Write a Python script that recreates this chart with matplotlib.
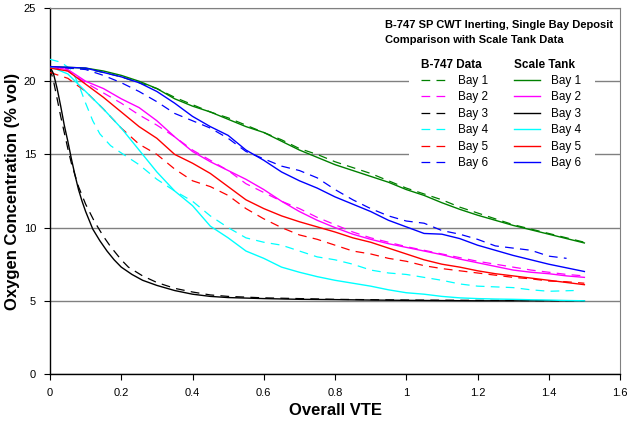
import matplotlib
matplotlib.use('Agg')
import matplotlib.pyplot as plt
from matplotlib.patches import Rectangle

plt.rcParams['font.family'] = ['Liberation Sans', 'DejaVu Sans']

bays = ['Bay 1', 'Bay 2', 'Bay 3', 'Bay 4', 'Bay 5', 'Bay 6']
colors = ['#008000', '#ff00ff', '#000000', '#00ffff', '#ff0000', '#0000ff']

# common VTE grid for most curves
vte = [0.0, 0.05, 0.1, 0.15, 0.2, 0.25, 0.3, 0.35, 0.4, 0.45, 0.5,
       0.55, 0.6, 0.65, 0.7, 0.75, 0.8, 0.85, 0.9, 0.95, 1.0,
       1.05, 1.1, 1.15, 1.2, 1.25, 1.3, 1.35, 1.4, 1.45, 1.5]

# scale tank (solid)
tank_bay1 = [21.0, 20.95, 20.9, 20.7, 20.4, 20.0, 19.5, 18.8, 18.3, 17.9, 17.4,
             16.9, 16.5, 15.9, 15.3, 14.8, 14.3, 13.9, 13.5, 13.1, 12.6,
             12.2, 11.7, 11.25, 10.85, 10.5, 10.15, 9.85, 9.55, 9.25, 8.95]
tank_bay2 = [21.0, 20.8, 20.0, 19.5, 18.8, 18.2, 17.3, 16.2, 15.2, 14.5, 13.9,
             13.3, 12.6, 11.8, 11.1, 10.5, 10.0, 9.55, 9.2, 8.9, 8.65,
             8.4, 8.15, 7.85, 7.6, 7.35, 7.1, 6.95, 6.85, 6.7, 6.6]
tank_bay3_x = [0.0, 0.01, 0.02, 0.03, 0.04, 0.05, 0.06, 0.07, 0.08, 0.09, 0.1,
               0.12, 0.14, 0.16, 0.18, 0.2, 0.23, 0.26, 0.3, 0.35, 0.4, 0.45,
               0.5, 0.6, 0.7, 0.8, 0.9, 1.0, 1.2, 1.5]
tank_bay3 = [21.0, 20.5, 19.5, 18.3, 17.0, 15.9, 14.7, 13.6, 12.6, 11.8, 11.1,
             9.9, 9.1, 8.4, 7.8, 7.3, 6.8, 6.4, 6.05, 5.7, 5.45, 5.3,
             5.22, 5.15, 5.1, 5.08, 5.05, 5.03, 5.0, 5.0]
tank_bay4 = [21.0, 20.5, 19.3, 18.1, 16.8, 15.3, 13.8, 12.5, 11.5, 10.1, 9.3,
             8.4, 7.9, 7.3, 6.95, 6.65, 6.4, 6.2, 6.0, 5.75, 5.55,
             5.45, 5.3, 5.2, 5.15, 5.12, 5.1, 5.07, 5.05, 5.02, 5.0]
tank_bay5 = [20.9, 20.7, 19.8, 18.9, 17.9, 16.9, 16.1, 15.0, 14.4, 13.7, 12.8,
             11.9, 11.3, 10.8, 10.4, 10.05, 9.7, 9.3, 9.0, 8.6, 8.2,
             7.8, 7.5, 7.3, 7.05, 6.85, 6.7, 6.55, 6.4, 6.25, 6.1]
tank_bay6 = [21.0, 20.95, 20.9, 20.6, 20.3, 19.9, 19.3, 18.5, 17.6, 16.9, 16.3,
             15.3, 14.6, 13.8, 13.2, 12.7, 12.1, 11.6, 11.1, 10.5, 10.05,
             9.6, 9.55, 9.25, 8.8, 8.45, 8.1, 7.8, 7.5, 7.25, 7.0]

# B-747 data (dashed)
b747_bay1 = [20.9, 20.9, 20.85, 20.6, 20.3, 19.9, 19.5, 18.9, 18.4, 17.9, 17.5,
             17.0, 16.5, 16.0, 15.4, 15.0, 14.5, 14.1, 13.7, 13.2, 12.7,
             12.3, 11.9, 11.4, 11.0, 10.6, 10.2, 9.9, 9.6, 9.3, 9.0]
b747_bay2 = [21.0, 20.7, 19.9, 19.2, 18.5, 17.7, 17.0, 16.2, 15.3, 14.6, 13.9,
             13.0, 12.4, 11.8, 11.3, 10.7, 10.2, 9.7, 9.3, 9.0, 8.7,
             8.45, 8.2, 7.95, 7.7, 7.5, 7.3, 7.1, 6.95, 6.8, 6.7]
b747_bay3_x = [0.0, 0.01, 0.02, 0.03, 0.04, 0.05, 0.06, 0.08, 0.1, 0.125, 0.15,
               0.17, 0.2, 0.22, 0.26, 0.3, 0.35, 0.4, 0.45, 0.5, 0.6, 0.8,
               1.0, 1.5]
b747_bay3 = [20.9, 20.0, 18.8, 17.6, 16.5, 15.4, 14.4, 12.8, 11.6, 10.4, 9.4,
             8.7, 7.8, 7.3, 6.7, 6.25, 5.85, 5.6, 5.4, 5.3, 5.2, 5.1,
             5.05, 5.0]
b747_bay4_x = [0.0, 0.03, 0.06, 0.08, 0.1, 0.12, 0.14, 0.17, 0.2, 0.25, 0.3,
               0.35, 0.4, 0.45, 0.5, 0.55, 0.6, 0.65, 0.7, 0.75, 0.8, 0.85,
               0.9, 0.95, 1.0, 1.05, 1.1, 1.15, 1.2, 1.3, 1.35, 1.4, 1.47]
b747_bay4 = [21.5, 21.3, 20.8, 19.8, 18.5, 17.3, 16.4, 15.6, 15.1, 14.3, 13.3,
             12.5, 11.8, 10.8, 10.0, 9.3, 9.0, 8.8, 8.4, 8.0, 7.8, 7.5,
             7.1, 6.9, 6.8, 6.6, 6.4, 6.15, 6.0, 5.9, 5.75, 5.65, 5.7]
b747_bay5 = [20.6, 20.2, 19.3, 18.1, 16.8, 15.7, 15.0, 14.0, 13.2, 12.8, 12.2,
             11.3, 10.6, 10.0, 9.5, 9.2, 8.8, 8.4, 8.2, 7.9, 7.7,
             7.4, 7.2, 7.05, 6.9, 6.75, 6.6, 6.5, 6.35, 6.3, 6.2]
b747_bay6_x = vte[:-1]
b747_bay6 = [20.9, 20.9, 20.8, 20.4, 19.9, 19.3, 18.6, 17.8, 17.3, 16.8, 16.1,
             15.2, 14.7, 14.2, 13.9, 13.4, 12.6, 11.9, 11.3, 10.8, 10.45,
             10.3, 9.8, 9.55, 9.2, 8.75, 8.6, 8.45, 8.05, 7.9]

b747_x = [vte, vte, b747_bay3_x, b747_bay4_x, vte, b747_bay6_x]
b747_y = [b747_bay1, b747_bay2, b747_bay3, b747_bay4, b747_bay5, b747_bay6]
tank_x = [vte, vte, tank_bay3_x, vte, vte, vte]
tank_y = [tank_bay1, tank_bay2, tank_bay3, tank_bay4, tank_bay5, tank_bay6]

fig = plt.figure(figsize=(6.29, 4.24), dpi=100)
ax = fig.add_axes([0.0795, 0.118, 0.9062, 0.863])

dash_handles = []
for x, y, c in zip(b747_x, b747_y, colors):
    h, = ax.plot(x, y, color=c, linewidth=0.9, dashes=(7, 5), zorder=3)
    dash_handles.append(h)
solid_handles = []
for x, y, c in zip(tank_x, tank_y, colors):
    h, = ax.plot(x, y, color=c, linewidth=1.0, zorder=4)
    solid_handles.append(h)

ax.set_xlim(0, 1.6)
ax.set_ylim(0, 25)
ax.set_xticks([0, 0.2, 0.4, 0.6, 0.8, 1.0, 1.2, 1.4, 1.6])
ax.set_xticklabels(['0', '0.2', '0.4', '0.6', '0.8', '1', '1.2', '1.4', '1.6'])
ax.set_yticks([0, 5, 10, 15, 20, 25])
ax.tick_params(labelsize=8, length=4, width=0.8, direction='out', pad=6)
ax.yaxis.grid(True, color='#808080', linewidth=1.0)
ax.set_axisbelow(True)
for s in ['top', 'right']:
    ax.spines[s].set_color('#808080')
ax.spines['left'].set_linewidth(1.0)
ax.spines['bottom'].set_linewidth(1.0)

ax.set_xlabel('Overall VTE', fontsize=12, fontweight='bold', labelpad=4)
ax.set_ylabel('Oxygen Concentration (% vol)', fontsize=12, fontweight='bold', labelpad=3)

ax.text(0.588, 0.968, 'B-747 SP CWT Inerting, Single Bay Deposit\nComparison with Scale Tank Data',
        transform=ax.transAxes, ha='left', va='top', fontsize=8.0,
        fontweight='bold', linespacing=1.65)

# white backing behind both legend columns (hides gridlines)
ax.add_patch(Rectangle((0.630, 0.56), 0.327, 0.315, transform=ax.transAxes,
                       facecolor='white', edgecolor='none', zorder=4.5))

leg_kw = dict(fontsize=8.5, handlelength=2.2, handletextpad=1.0, labelspacing=0.38,
              frameon=True, facecolor='white', edgecolor='none', framealpha=1,
              borderpad=0.4, borderaxespad=0, alignment='left',
              title_fontproperties={'weight': 'bold', 'size': 8.5})
leg1 = ax.legend(dash_handles, bays, title='B-747 Data', loc='upper left',
                 bbox_to_anchor=(0.642, 0.875), **leg_kw)
ax.add_artist(leg1)
leg2 = ax.legend(solid_handles, bays, title='Scale Tank', loc='upper left',
                 bbox_to_anchor=(0.805, 0.875), **leg_kw)
leg1.set_zorder(5)
leg2.set_zorder(5)

fig.savefig('out.png', dpi=100)
